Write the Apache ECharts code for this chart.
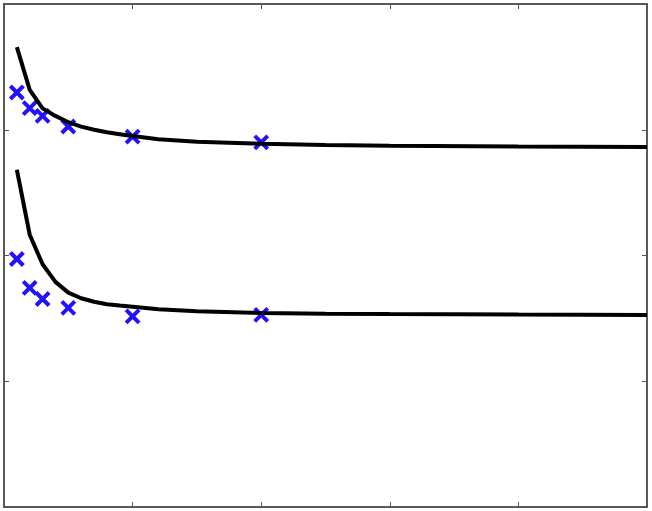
<!DOCTYPE html>
<html>
<head>
    <title>Curves with markers</title>
    <script src="https://cdn.jsdelivr.net/npm/echarts@6/dist/echarts.min.js"></script>
    <style>
        body { margin: 0; background: #fff; }
        #chart { width: 652px; height: 511px; }
    </style>
</head>
<body>
    <div id="chart"></div>
    <script>
        // sampled model curves
        var curveX = [0.1, 0.2, 0.3, 0.4, 0.5, 0.6, 0.7, 0.8, 0.9, 1.0, 1.2, 1.5, 2, 2.5, 3, 4, 5];
        var upperCurve = [3.657, 3.317, 3.17, 3.11, 3.06, 3.025, 3.0, 2.98, 2.965, 2.95, 2.925, 2.905, 2.888, 2.878, 2.872, 2.866, 2.862];
        var lowerCurve = [2.682, 2.165, 1.93, 1.79, 1.705, 1.66, 1.632, 1.613, 1.602, 1.593, 1.572, 1.557, 1.543, 1.537, 1.534, 1.53, 1.527];

        // measured points
        var pointX = [0.1, 0.2, 0.3, 0.5, 1, 2];
        var upperPoints = [3.296, 3.172, 3.111, 3.026, 2.946, 2.899];
        var lowerPoints = [1.972, 1.742, 1.654, 1.583, 1.516, 1.528];

        function pairs(xs, ys) {
            return xs.map(function (x, i) { return [x, ys[i]]; });
        }

        var chart = echarts.init(document.getElementById('chart'));

        var axisCommon = {
            type: 'value',
            axisLine: { show: true, onZero: false, lineStyle: { color: '#222', width: 1.5 } },
            axisTick: { show: true, inside: true, length: 5, lineStyle: { color: '#555', width: 1 } },
            axisLabel: { show: false },
            splitLine: { show: false }
        };

        var cross = 'path://M0,0L10,10M10,0L0,10';
        var markerStyle = { color: 'transparent', borderColor: '#2210ff', borderWidth: 4, opacity: 1 };

        var option = {
            animation: false,
            grid: { left: 4, right: 5, top: 4, bottom: 4 },
            xAxis: [
                Object.assign({ min: 0, max: 5, interval: 1, position: 'bottom' }, axisCommon),
                Object.assign({ min: 0, max: 5, interval: 1, position: 'top' }, axisCommon)
            ],
            yAxis: [
                Object.assign({ min: 0, max: 4, interval: 1, position: 'left' }, axisCommon),
                Object.assign({ min: 0, max: 4, interval: 1, position: 'right' }, axisCommon)
            ],
            series: [
                {
                    type: 'line',
                    data: pairs(curveX, upperCurve),
                    showSymbol: false,
                    lineStyle: { color: '#000', width: 4 }
                },
                {
                    type: 'line',
                    data: pairs(curveX, lowerCurve),
                    showSymbol: false,
                    lineStyle: { color: '#000', width: 4 }
                },
                {
                    type: 'scatter',
                    data: pairs(pointX, upperPoints),
                    symbol: cross,
                    symbolSize: 13,
                    itemStyle: markerStyle
                },
                {
                    type: 'scatter',
                    data: pairs(pointX, lowerPoints),
                    symbol: cross,
                    symbolSize: 13,
                    itemStyle: markerStyle
                }
            ]
        };

        chart.setOption(option);
    </script>
</body>
</html>
